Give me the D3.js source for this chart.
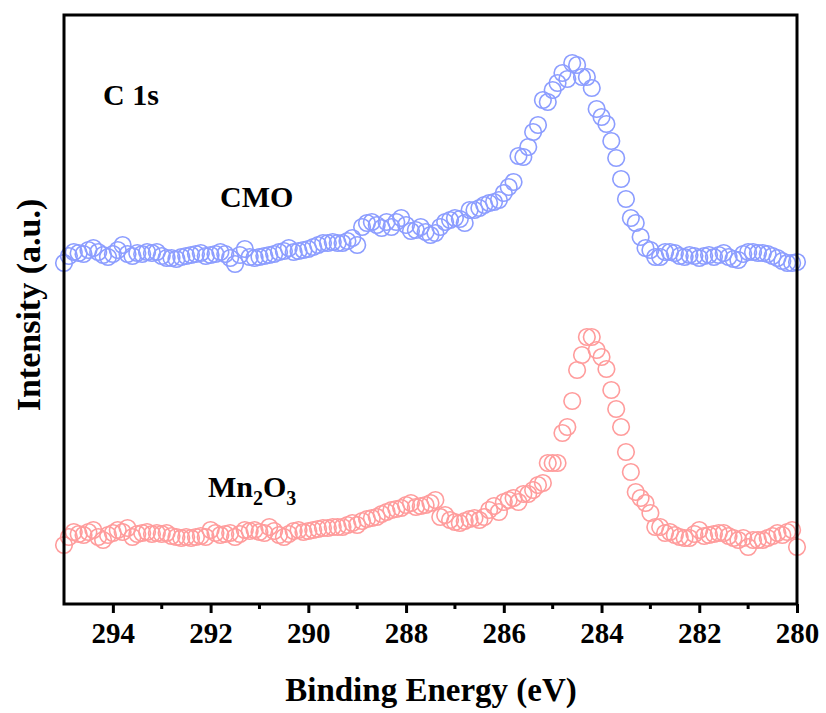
<!DOCTYPE html>
<html>
<head>
<meta charset="utf-8">
<script src="https://cdn.jsdelivr.net/npm/d3@7"></script>
<style>
  body { margin: 0; background: #fff; }
  text { font-family: "Liberation Serif", "Times New Roman", serif; font-weight: bold; }
</style>
</head>
<body>
<svg id="chart" width="826" height="713"></svg>
<script>
// binding energy grid, 295 -> 280 eV in 0.1 eV steps
const energies = d3.range(151).map(i => +(295 - i * 0.1).toFixed(1));

// CMO C 1s (a.u., offset trace)
const cmo = [
  341,348,352,351,350,354,356,352,349,347,
  350,354,359,350,348,351,350,352,351,352,
  348,346,346,345,347,348,349,350,351,348,
  349,350,352,350,346,340,349,355,347,346,
  347,348,349,350,352,353,356,352,353,354,
  355,357,359,361,361,362,361,361,363,366,
  359,377,381,382,379,376,382,377,382,386,
  379,373,374,377,372,369,371,377,382,384,
  386,385,381,394,394,396,399,401,402,404,
  411,417,422,448,447,457,472,479,504,502,
  514,521,531,525,541,539,527,527,516,495,
  487,480,463,446,425,405,386,381,367,356,
  354,347,347,352,352,351,348,347,349,348,
  346,348,349,347,349,351,347,345,344,350,
  352,352,351,351,350,348,346,343,341,341,342
];

// Mn2O3 C 1s (a.u.)
const mn2o3 = [
  59,67,72,70,69,72,74,67,64,69,
  71,74,72,76,67,70,71,72,70,71,
  70,71,68,67,66,67,66,67,68,67,
  74,71,69,70,71,67,70,74,73,74,
  72,71,77,73,69,67,70,73,74,72,
  73,74,75,76,76,77,77,77,79,81,
  79,83,85,86,87,90,92,94,95,96,
  99,101,97,98,99,101,104,87,89,84,
  82,81,83,85,86,84,87,94,98,92,
  102,104,106,102,110,110,114,119,121,141,
  141,141,171,177,203,234,249,267,267,254,
  247,235,214,195,177,152,132,112,106,101,
  91,77,77,71,72,69,67,66,66,70,
  74,68,69,70,71,71,68,66,64,66,
  57,64,64,64,66,68,71,69,72,74,57
];

const majorTicks = [294, 292, 290, 288, 286, 284, 282, 280];
const minorTicks = [293, 291, 289, 287, 285, 283, 281];

const svg = d3.select("#chart");
const plotL = 64, plotR = 797, plotT = 15, plotB = 604;

const x = d3.scaleLinear().domain([295, 280]).range([plotL, plotR]);
const y = d3.scaleLinear().domain([0, 589]).range([plotB, plotT]);

// data points
function drawSeries(vals, color) {
  svg.append("g")
    .selectAll("circle")
    .data(vals)
    .enter()
    .append("circle")
    .attr("cx", (d, i) => x(energies[i]))
    .attr("cy", d => y(d))
    .attr("r", 8.3)
    .attr("fill", "none")
    .attr("stroke", color)
    .attr("stroke-width", 1.6);
}
drawSeries(cmo, "#8c9dff");
drawSeries(mn2o3, "#ff9c9c");

// x axis ticks
const ax = svg.append("g").attr("transform", `translate(0,${plotB})`);
ax.call(d3.axisBottom(x).tickValues(majorTicks).tickSize(9).tickPadding(9).tickFormat(d3.format("d")));
ax.select(".domain").remove();
ax.selectAll(".tick line").attr("stroke", "#000").attr("stroke-width", 3);
ax.selectAll(".tick text")
  .attr("fill", "#000")
  .style("font-size", "29px")
  .style("font-family", "Liberation Serif, serif")
  .style("font-weight", "bold");

svg.append("g")
  .selectAll("line")
  .data(minorTicks)
  .enter()
  .append("line")
  .attr("x1", d => x(d)).attr("x2", d => x(d))
  .attr("y1", plotB).attr("y2", plotB + 5)
  .attr("stroke", "#000").attr("stroke-width", 3);

// frame
svg.append("rect")
  .attr("x", plotL).attr("y", plotT)
  .attr("width", plotR - plotL).attr("height", plotB - plotT)
  .attr("fill", "none").attr("stroke", "#000").attr("stroke-width", 3);

// titles
svg.append("text")
  .attr("x", 431).attr("y", 701)
  .attr("text-anchor", "middle")
  .style("font-size", "33px")
  .text("Binding Energy (eV)");

svg.append("text")
  .attr("transform", `translate(40,305) rotate(-90)`)
  .attr("text-anchor", "middle")
  .style("font-size", "34px")
  .text("Intensity (a.u.)");

// annotations
svg.append("text").attr("x", 103).attr("y", 105).style("font-size", "30px").text("C 1s");
svg.append("text").attr("x", 220).attr("y", 207).style("font-size", "30px").text("CMO");

const mn = svg.append("text").attr("x", 208).attr("y", 497).style("font-size", "30px");
mn.append("tspan").text("Mn");
mn.append("tspan").attr("dy", 8).style("font-size", "20px").text("2");
mn.append("tspan").attr("dy", -8).text("O");
mn.append("tspan").attr("dy", 8).style("font-size", "20px").text("3");
</script>
</body>
</html>
